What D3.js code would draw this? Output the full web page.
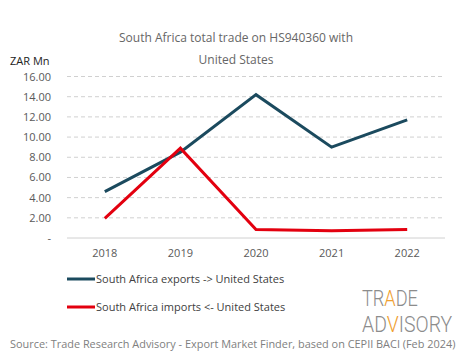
<!DOCTYPE html>
<html><head><meta charset="utf-8">
<script src="https://cdn.jsdelivr.net/npm/d3@7"></script>
<style>body{margin:0;background:#fff;} svg{display:block;font-family:"Open Sans",sans-serif;}</style>
</head><body><div id="chart"></div>
<script>
const years = ["2018","2019","2020","2021","2022"];
const exportsUS = [4.6, 8.5, 14.2, 9.0, 11.7];
const importsUS = [1.95, 8.9, 0.85, 0.72, 0.85];
const yTicks = [0,2,4,6,8,10,12,14,16];
const seriesNames = ["South Africa exports -> United States","South Africa imports <- United States"];
const seriesColors = ["#1b4a5e","#e3000f"];

const W=465,H=359;
const svg=d3.select("#chart").append("svg").attr("width",W).attr("height",H);
const x=d3.scaleBand().domain(years).range([67,445]);
const y=d3.scaleLinear().domain([0,16]).range([238,76.5]);

svg.append("text").attr("x",236).attr("y",42).attr("text-anchor","middle").attr("font-size",12).attr("fill","#666").text("South Africa total trade on HS940360 with");
svg.append("text").attr("x",236).attr("y",64).attr("text-anchor","middle").attr("font-size",12).attr("fill","#666").text("United States");
svg.append("text").attr("x",10).attr("y",65).attr("font-size",11).attr("fill","#222").text("ZAR Mn");

// grid
svg.append("g").selectAll("line").data(yTicks.filter(d=>d>0)).join("line")
 .attr("x1",67).attr("x2",445).attr("y1",d=>y(d)).attr("y2",d=>y(d))
 .attr("stroke","#d0d0d0").attr("stroke-dasharray","4,3").attr("stroke-width",1);
svg.append("line").attr("x1",67).attr("x2",445).attr("y1",y(0)).attr("y2",y(0)).attr("stroke","#d0d0d0");

const yAxis=svg.append("g").attr("transform","translate(51,0)")
 .call(d3.axisLeft(y).tickValues(yTicks).tickSize(0).tickFormat(d=>d===0?"-":d3.format(".2f")(d)));
yAxis.select(".domain").remove();
yAxis.selectAll("text").attr("font-size",11).attr("fill","#595959").attr("font-family","Open Sans, sans-serif").attr("x",0);

const xAxis=svg.append("g").attr("transform","translate(0,246)")
 .call(d3.axisBottom(x).tickSize(0));
xAxis.select(".domain").remove();
xAxis.selectAll("text").attr("font-size",11).attr("fill","#595959").attr("font-family","Open Sans, sans-serif").attr("dy","0.71em");

const line=d3.line().x((d,i)=>x(years[i])+x.bandwidth()/2).y(d=>y(d));
[exportsUS,importsUS].forEach((s,i)=>{
 svg.append("path").datum(s).attr("d",line).attr("fill","none").attr("stroke",seriesColors[i]).attr("stroke-width",3).attr("stroke-linejoin","miter");
});

// legend
seriesNames.forEach((n,i)=>{
 const ly=279+i*28;
 svg.append("line").attr("x1",67).attr("x2",95).attr("y1",ly).attr("y2",ly).attr("stroke",seriesColors[i]).attr("stroke-width",3);
 svg.append("text").attr("x",96).attr("y",ly+4).attr("font-size",11).attr("fill","#404040").text(n);
});

// logo
const grey="#8c8c8c", orange="#f0a030";
function logoLine(parts, baseY, targetW){
 const g=svg.append("g");
 const t=g.append("text").attr("font-family","Roboto, sans-serif").attr("font-weight",300).attr("font-size",22).attr("fill",grey);
 parts.forEach(p=>t.append("tspan").attr("fill",p[1]).text(p[0]));
 const w=t.node().getComputedTextLength();
 g.attr("transform",`translate(362,${baseY}) scale(${targetW/w},1)`);
}
logoLine([["TR",grey],["A",orange],["DE",grey]],306,56);
logoLine([["AD",grey],["V",orange],["ISORY",grey]],332,90);

const src=svg.append("text").attr("x",10).attr("y",348).attr("font-size",11).attr("fill","#808080")
 .text("Source: Trade Research Advisory - Export Market Finder, based on CEPII BACI (Feb 2024)");
const sw=src.node().getComputedTextLength();
src.attr("font-size",Math.min(11.5,11*446/sw));
</script></body></html>
